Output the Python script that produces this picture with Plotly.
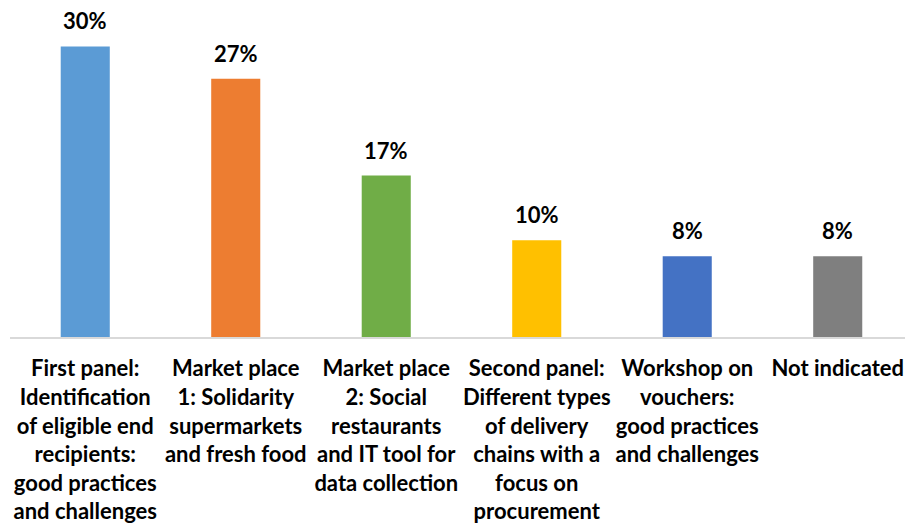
import plotly.graph_objects as go

categories = [
    "First panel:<br>Identification<br>of eligible end<br>recipients:<br>good practices<br>and challenges",
    "Market place<br>1: Solidarity<br>supermarkets<br>and fresh food",
    "Market place<br>2: Social<br>restaurants<br>and IT tool for<br>data collection",
    "Second panel:<br>Different types<br>of delivery<br>chains with a<br>focus on<br>procurement",
    "Workshop on<br>vouchers:<br>good practices<br>and challenges",
    "Not indicated",
]
values = [30.0, 26.67, 16.67, 10.0, 8.33, 8.33]
value_labels = ["30%", "27%", "17%", "10%", "8%", "8%"]
colors = ["#5B9BD5", "#ED7D31", "#70AD47", "#FFC000", "#4472C4", "#7F7F7F"]

FONT = "Lato"
xs = list(range(len(categories)))

fig = go.Figure()
fig.add_trace(go.Bar(
    x=xs, y=values, width=0.326,
    marker=dict(color=colors, line=dict(width=0)),
    hoverinfo="skip",
))

for x, v, t in zip(xs, values, value_labels):
    fig.add_annotation(x=x, y=v, text=f"<b>{t}</b>", showarrow=False,
                       yanchor="bottom", yshift=10,
                       font=dict(family=FONT, size=22, color="#000000"))

fig.update_layout(
    width=905, height=524,
    margin=dict(l=10, r=0, t=0, b=187),
    paper_bgcolor="white", plot_bgcolor="white",
    showlegend=False,
    xaxis=dict(
        tickmode="array", tickvals=xs,
        ticktext=[f"<b>{c}</b>" for c in categories],
        range=[-0.5, 5.447],
        showline=True, linecolor="#D9D9D9", linewidth=2,
        showgrid=False, zeroline=False,
        ticks="outside", ticklen=11, tickcolor="rgba(0,0,0,0)",
        tickfont=dict(family=FONT, size=22, color="#000000"),
        tickangle=0, automargin=False,
    ),
    yaxis=dict(
        range=[0, 34.8], visible=False, showgrid=False, zeroline=False,
    ),
)

fig.write_html("out.html", config={"displayModeBar": False, "staticPlot": True},
               post_script="document.body.style.margin='0';document.body.style.overflow='hidden';")
